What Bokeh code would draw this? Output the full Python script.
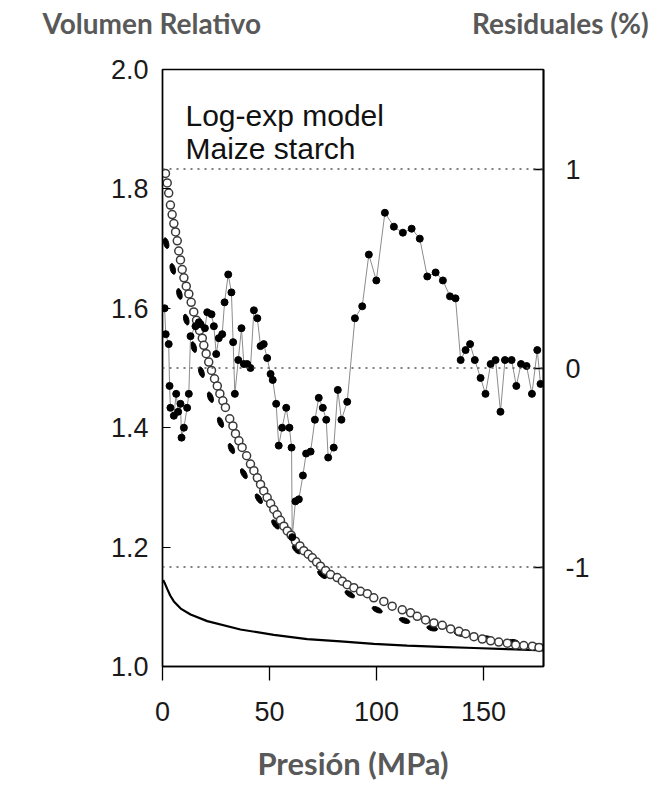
import numpy as np
from bokeh.plotting import figure
from bokeh.models import Range1d, LinearAxis, Label, FixedTicker, Span, NumeralTickFormatter, Title
from bokeh.embed import file_html
from bokeh.resources import INLINE

# ---------------- data ----------------
pressure_circ = [1.4, 2.2, 2.9, 3.7, 4.5, 5.3, 6.1, 6.9, 7.6, 8.4, 9.2, 10.0, 11.1, 12.3, 13.4,
                 14.6, 15.9, 17.3, 18.6, 19.3, 20.4, 21.6, 22.9, 24.3, 25.6, 26.8, 28.2, 29.4,
                 31.4, 32.9, 34.1, 35.7, 37.2, 39.3, 41.1, 42.7, 44.3, 45.8, 47.3, 48.9, 50.5,
                 52.0, 53.6, 55.1, 56.7, 58.3, 60.1, 62.1, 64.2, 66.0, 68.1, 70.0, 72.0, 73.8,
                 76.2, 78.5, 81.6, 84.0, 86.3, 89.4, 92.5, 95.7, 98.7, 103.4, 107.3, 112.0,
                 115.9, 119.0, 122.9, 126.8, 130.7, 134.6, 138.5, 141.6, 145.5, 149.4, 153.3,
                 157.1, 161.1, 165.0, 168.8, 172.8, 175.9]
volume_circ = [1.826, 1.810, 1.793, 1.773, 1.757, 1.742, 1.728, 1.713, 1.696, 1.681, 1.665,
               1.651, 1.637, 1.624, 1.610, 1.594, 1.580, 1.563, 1.550, 1.538, 1.524, 1.510,
               1.496, 1.482, 1.470, 1.457, 1.445, 1.434, 1.415, 1.403, 1.390, 1.378, 1.367,
               1.353, 1.339, 1.328, 1.316, 1.305, 1.294, 1.283, 1.273, 1.263, 1.254, 1.245,
               1.235, 1.227, 1.220, 1.210, 1.202, 1.194, 1.188, 1.182, 1.175, 1.168, 1.161,
               1.154, 1.149, 1.143, 1.137, 1.132, 1.126, 1.122, 1.115, 1.109, 1.101, 1.095,
               1.090, 1.084, 1.078, 1.073, 1.069, 1.063, 1.059, 1.055, 1.050, 1.046, 1.043,
               1.041, 1.039, 1.036, 1.035, 1.034, 1.032]

pressure_dash = [1.7, 4.8, 7.9, 11.1, 14.6, 18.2, 22.4, 27.1, 32.2, 38.0, 45.0, 52.8, 62.6,
                 74.6, 87.5, 100.3, 113.1, 126.0, 138.9, 151.7, 164.0, 176.3]
volume_dash = [1.709, 1.666, 1.624, 1.581, 1.535, 1.493, 1.451, 1.409, 1.365, 1.323, 1.281,
               1.238, 1.196, 1.154, 1.121, 1.095, 1.077, 1.064, 1.055, 1.047, 1.041, 1.034]

pressure_line = [0.3, 1.0, 2.2, 3.6, 5.3, 8.5, 13.1, 20.9, 36.4, 52.0, 67.6, 83.2, 98.7,
                 114.3, 129.9, 145.5, 161.1, 178.0]
volume_line = [1.145, 1.140, 1.130, 1.119, 1.109, 1.097, 1.087, 1.076, 1.062, 1.053, 1.046,
               1.042, 1.038, 1.035, 1.033, 1.031, 1.029, 1.027]

pressure_res = [1.0, 1.5, 2.9, 3.3, 3.7, 5.3, 6.4, 7.3, 8.4, 8.9, 10.0, 11.5, 12.3, 13.1,
                15.4, 17.0, 17.8, 19.8, 20.9, 22.9, 24.0, 25.1, 26.3, 27.9, 29.0, 30.7, 32.2,
                33.0, 33.8, 35.4, 36.9, 38.0, 39.6, 41.1, 42.7, 44.3, 45.8, 47.3, 48.9, 50.5,
                51.5, 53.1, 54.3, 55.9, 57.8, 59.3, 60.3, 60.6, 62.1, 63.7, 65.6, 67.1, 69.2,
                71.2, 73.0, 74.9, 76.5, 77.4, 80.0, 81.9, 83.6, 86.3, 89.9, 93.3, 96.4, 99.9,
                103.9, 108.1, 112.3, 116.4, 120.2, 123.7, 127.6, 131.0, 134.3, 136.9, 139.3,
                141.6, 143.7, 145.9, 148.6, 150.9, 153.3, 155.6, 157.9, 160.0, 163.1, 165.3,
                167.5, 170.1, 172.6, 175.1, 176.6]
residual = [0.30, 0.17, 0.12, -0.09, -0.20, -0.24, -0.13, -0.22, -0.18, -0.35, -0.30, -0.20,
            -0.13, 0.16, 0.21, 0.23, 0.22, 0.20, 0.28, 0.27, 0.21, 0.07, 0.15, 0.17, 0.33,
            0.47, 0.38, 0.13, -0.13, 0.04, 0.20, 0.02, 0.02, 0.00, 0.29, 0.25, 0.11, 0.12,
            0.05, -0.03, -0.06, -0.18, -0.39, -0.30, -0.20, -0.30, -0.40, -0.85, -0.67, -0.66,
            -0.54, -0.43, -0.42, -0.26, -0.15, -0.20, -0.26, -0.45, -0.40, -0.11, -0.26, -0.17,
            0.25, 0.31, 0.57, 0.44, 0.78, 0.71, 0.68, 0.70, 0.65, 0.46, 0.48, 0.44, 0.36, 0.35,
            0.04, 0.09, 0.12, 0.04, -0.05, -0.13, 0.02, 0.04, -0.22, 0.04, 0.04, -0.09, 0.02,
            0.01, -0.13, 0.09, -0.08]

res_ref_levels = [1, 0, -1]
x_ticks = [0, 50, 100, 150]
y_ticks = [1.0, 1.2, 1.4, 1.6, 1.8, 2.0]
res_ticks = [-1, 0, 1]
res_tick_labels = {-1: "-1", 0: "0", 1: "1"}

left_title = "Volumen Relativo"
right_title = "Residuales (%)"
x_title = "Presión (MPa)"

x_lim = (0, 178)
y_lim = (1.0, 2.0)
res_lim = (-1.5, 1.5)

# ---------------- layout ----------------
W, H = 667, 786
FL, FR = 162, 543               # frame left / right in window pixels
FT, FB = 69, 666                # frame top / bottom in window pixels

title_font = "Lato"
title_color = "#595959"

p = figure(width=W, height=H, output_backend="svg", toolbar_location=None,
           x_range=Range1d(*x_lim), y_range=Range1d(*y_lim),
           min_border_left=FL, min_border_right=W - FR,
           min_border_top=FT, min_border_bottom=H - FB)
p.extra_y_ranges = {"res": Range1d(*res_lim)}
p.grid.visible = False
p.background_fill_color = "white"
p.border_fill_color = "white"
p.outline_line_color = "black"
p.outline_line_width = 1.3

# the two top titles share one row: left title, gap of no-break spaces, right title
GAP = "\u00a0" * 31
p.title.text = left_title + GAP + right_title
p.title.align = "left"
p.title.offset = 42 - FL
p.title.standoff = 0
p.title.vertical_align = "bottom"
p.title.text_font = title_font
p.title.text_font_size = "28px"
p.title.text_font_style = "bold"
p.title.text_color = title_color

# empty spacer row between the title row and the frame (lifts the title row)
p.add_layout(Title(text="\u00a0", text_font_size="10px", standoff=17), "above")

tick_font = "Liberation Sans"
tick_size = "27px"
tick_color = "#1a1a1a"

xa = p.xaxis[0]
xa.ticker = FixedTicker(ticks=x_ticks)
xa.major_tick_in = 0
xa.major_tick_out = 14
xa.minor_tick_line_color = None
xa.axis_line_color = "black"
xa.axis_line_width = 1.5
xa.major_tick_line_width = 1.3
xa.major_label_text_font = tick_font
xa.major_label_text_font_size = tick_size
xa.major_label_text_color = tick_color
xa.major_label_standoff = 21
xa.axis_label = x_title
xa.axis_label_text_font = title_font
xa.axis_label_text_font_size = "31px"
xa.axis_label_text_font_style = "bold"
xa.axis_label_text_color = title_color
xa.axis_label_standoff = 20

ya = p.yaxis[0]
ya.ticker = FixedTicker(ticks=y_ticks)
ya.formatter = NumeralTickFormatter(format="0.0")
ya.major_tick_in = 8
ya.major_tick_out = 0
ya.minor_tick_line_color = None
ya.axis_line_color = "black"
ya.axis_line_width = 1.5
ya.major_tick_line_width = 1.2
ya.major_label_text_font = tick_font
ya.major_label_text_font_size = tick_size
ya.major_label_text_color = tick_color
ya.major_label_standoff = 14

ra = LinearAxis(y_range_name="res", ticker=FixedTicker(ticks=res_ticks))
ra.major_label_overrides = res_tick_labels
ra.major_tick_in = 10
ra.major_tick_out = 0
ra.minor_tick_line_color = None
ra.axis_line_color = "black"
ra.axis_line_width = 2
ra.major_tick_line_width = 1.3
ra.major_label_text_font = tick_font
ra.major_label_text_font_size = tick_size
ra.major_label_text_color = tick_color
ra.major_label_standoff = 22
p.add_layout(ra, "right")

# dotted reference lines (residual 1, 0, -1)
for lev in res_ref_levels:
    p.add_layout(Span(location=lev, dimension="width", y_range_name="res",
                      line_color="#555555", line_width=1.5, line_dash="2 5"))

# solid model line
p.line(pressure_line, volume_line, line_color="black", line_width=2.2)

# dashed curve, drawn as oriented dashes
px_x = (FR - FL) / (x_lim[1] - x_lim[0])
px_y = (FB - FT) / (y_lim[1] - y_lim[0])
xd = np.array(pressure_dash)
vd = np.array(volume_dash)
ang = np.arctan2(np.gradient(vd) * px_y, np.gradient(xd) * px_x)
p.ellipse(x=xd, y=vd, width=11, height=5, angle=ang,
          width_units="screen", height_units="screen",
          fill_color="black", line_color="black")

# residual trace
p.line(pressure_res, residual, y_range_name="res", line_color="#8c8c8c", line_width=1)

# open circles
p.scatter(pressure_circ, volume_circ, marker="circle", size=8,
          fill_color="white", line_color="#3a3a3a", line_width=1.5)

# residual dots
p.scatter(pressure_res, residual, y_range_name="res", marker="circle", size=7,
          fill_color="black", line_color="black")

# legend-like texts inside the frame
p.add_layout(Label(x=23, y=FB - 115, x_units="screen", y_units="screen",
                   text="Log-exp model", text_font="Liberation Sans", text_font_size="30px",
                   text_color="#111111", text_baseline="alphabetic"))
p.add_layout(Label(x=23, y=FB - 148, x_units="screen", y_units="screen",
                   text="Maize starch", text_font="Liberation Sans", text_font_size="30px",
                   text_color="#111111", text_baseline="alphabetic"))

open("out.html", "w").write(file_html(p, INLINE))
